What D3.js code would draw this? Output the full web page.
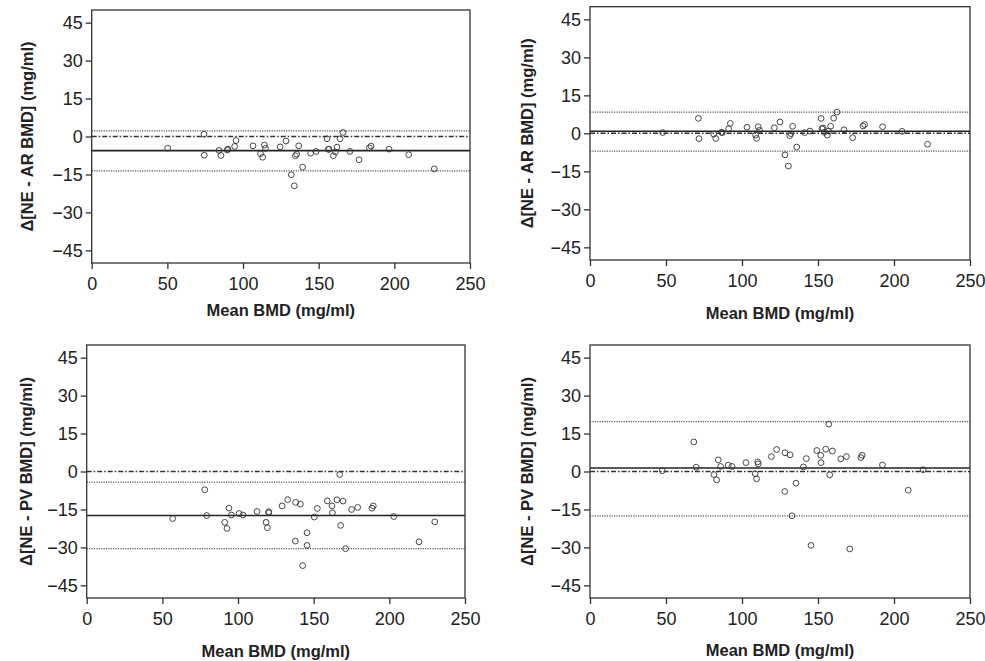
<!DOCTYPE html>
<html lang="en">
<head>
    <meta charset="utf-8">
    <title>Bland-Altman BMD</title>
    <script type="text/javascript" src="https://cdn.jsdelivr.net/npm/d3@7/dist/d3.min.js"></script>
    <style type="text/css">
        body { margin: 0; background: #fff; }
        svg { display: block; }
        text { font-family: "Liberation Sans", Arial, sans-serif; fill: #222; }
    </style>
</head>
<body>
    <script type="text/javascript">
        // Data: mean BMD (x) and difference (y) per panel
        var p1X = [50.2, 74.2, 74.4, 84.1, 85.4, 89.6, 90, 94.5, 95.4, 106.6, 111.6, 113, 114.1, 114.8, 124.5, 128.4, 131.9, 133.9, 134.6, 135.5, 136.8, 139.4, 144.7, 148.2, 155.5, 156.4, 156.8, 159.7, 161, 162.1, 164.1, 166.1, 170.7, 176.7, 183.5, 184.6, 196.5, 209.5, 226.4];
        var p1Y = [-4.6, 0.9, -7.4, -5.5, -7.5, -5.3, -5.0, -3.9, -1.6, -3.7, -6.8, -8.2, -3.4, -4.7, -4.1, -1.8, -15.1, -19.5, -7.6, -7.0, -3.7, -12.1, -6.6, -5.9, -0.9, -5.1, -5.0, -7.6, -6.1, -4.2, -0.9, 1.6, -5.9, -9.2, -4.5, -3.8, -5.0, -7.2, -12.8];

        var p2X = [47.8, 71.3, 71.7, 81.4, 82.7, 86.6, 87, 91.2, 92.3, 103.3, 109, 109.6, 110.7, 111.6, 121.3, 125, 128.3, 130.5, 131.4, 132.2, 133.3, 136, 141.2, 144.7, 152, 152.6, 153.3, 154.2, 156.1, 157, 158.3, 160.3, 162.5, 167.1, 172.8, 179.6, 180.7, 192.5, 205.3, 222.1];
        var p2Y = [0.3, 5.9, -2.1, -0.3, -2.0, 0.4, 0.3, 1.8, 3.9, 2.4, -0.7, -2.0, 2.6, 1.2, 2.2, 4.5, -8.5, -12.9, -0.9, -0.1, 2.8, -5.4, 0.3, 0.9, 5.9, 1.8, 2.1, 0.4, -0.7, 0.9, 2.8, 6.0, 8.4, 1.4, -1.7, 2.9, 3.5, 2.6, 0.8, -4.3];

        var p3X = [56.8, 78, 79.3, 91.2, 92.7, 94, 95.6, 100.7, 103.3, 112.6, 118.5, 119.4, 120.3, 120.3, 129.1, 132.8, 137.9, 138.1, 141.2, 142.7, 145.6, 145.6, 150.4, 152.4, 159, 162.1, 162.4, 165.4, 167.2, 167.8, 169.4, 171.1, 175.1, 179.1, 188.5, 189.4, 202.9, 219.6, 230];
        var p3Y = [-18.6, -7.2, -17.4, -20.1, -22.5, -14.5, -17.2, -16.6, -17.2, -15.8, -20.1, -22.2, -15.9, -16.3, -13.6, -11.1, -27.5, -12.2, -12.9, -37.2, -24.2, -29.2, -18.0, -14.6, -11.6, -13.6, -16.3, -11.2, -1.2, -21.3, -11.7, -30.5, -15.0, -14.2, -14.5, -13.6, -17.8, -27.8, -19.9];

        var p4X = [47.5, 68.3, 69.9, 81.5, 83.3, 84.4, 85.9, 90.9, 93.4, 102.6, 108.7, 109.6, 110.3, 110.7, 119.3, 122.8, 128.1, 128.3, 131.6, 132.9, 135.5, 140.4, 142.3, 145.4, 149.2, 151.8, 152, 155.1, 157.1, 157.7, 159.5, 165, 168.7, 170.9, 178.2, 179, 192.4, 209.4, 219.2];
        var p4Y = [0.3, 11.7, 1.7, -1.2, -3.3, 4.6, 2.0, 2.5, 2.0, 3.5, -0.9, -2.9, 3.8, 3.0, 5.9, 8.7, -7.9, 7.4, 6.6, -17.5, -4.6, 1.8, 5.1, -29.2, 8.3, 6.4, 3.5, 8.8, 18.7, -1.3, 8.1, 5.0, 5.9, -30.6, 5.5, 6.4, 2.6, -7.4, 0.7];

        // Bias and limits of agreement per panel
        var biasValues = [-5.6, 0.8, -17.4, 1.4];
        var upperLoA = [2.2, 8.4, -4.2, 19.7];
        var lowerLoA = [-13.6, -7.0, -30.5, -17.5];

        var yLabels = ["Δ[NE - AR BMD] (mg/ml)", "Δ[NE - AR BMD] (mg/ml)", "Δ[NE - PV BMD] (mg/ml)", "Δ[NE - PV BMD] (mg/ml)"];
        var xLabel = "Mean BMD (mg/ml)";
        var xTicks = [0, 50, 100, 150, 200, 250];
        var yTicks = [-45, -30, -15, 0, 15, 30, 45];

        // Width and height
        var w = 985;
        var h = 661;

        var svg = d3.select("body")
            .append("svg")
            .attr("width", w)
            .attr("height", h);

        // Plot boxes (left, right, top, bottom) and title positions
        var boxes = [
            { l: 91.7, r: 470, t: 10, b: 263, ty: 316, yx: 27 },
            { l: 590, r: 970, t: 6.7, b: 260, ty: 319, yx: 527 },
            { l: 86.7, r: 465, t: 345, b: 598, ty: 657, yx: 26 },
            { l: 590, r: 970, t: 345, b: 598, ty: 656, yx: 527 }
        ];

        var xs = [p1X, p2X, p3X, p4X];
        var ys = [p1Y, p2Y, p3Y, p4Y];

        boxes.forEach(function(b, i) {
            var x = d3.scaleLinear().domain([0, 250]).range([b.l, b.r]);
            var y = d3.scaleLinear().domain([-50, 50]).range([b.b, b.t]);
            var g = svg.append("g");

            // Reference lines
            function hline(v, dash, color, width) {
                g.append("line")
                    .attr("x1", b.l).attr("x2", b.r)
                    .attr("y1", y(v)).attr("y2", y(v))
                    .style("stroke", color)
                    .style("stroke-width", width)
                    .style("stroke-dasharray", dash);
            }
            hline(upperLoA[i], "1.2,1.2", "#555", 1.2);
            hline(lowerLoA[i], "1.2,1.2", "#555", 1.2);
            hline(0, "5,2,1.5,2", "#333", 1.5);
            hline(biasValues[i], null, "#222", 1.6);

            // Points
            g.selectAll("circle")
                .data(d3.zip(xs[i], ys[i]))
                .enter()
                .append("circle")
                .attr("cx", function(d) { return x(d[0]); })
                .attr("cy", function(d) { return y(d[1]); })
                .attr("r", 2.9)
                .style("fill", "none")
                .style("stroke", "#333")
                .style("stroke-width", 0.9);

            // Frame
            g.append("rect")
                .attr("x", b.l).attr("y", b.t)
                .attr("width", b.r - b.l).attr("height", b.b - b.t)
                .style("fill", "none")
                .style("stroke", "#333")
                .style("stroke-width", 1.3);

            // Axes
            var xAxis = g.append("g")
                .attr("transform", "translate(0," + b.b + ")")
                .call(d3.axisBottom(x).tickValues(xTicks).tickSize(6).tickPadding(8).tickSizeOuter(0));
            var yAxis = g.append("g")
                .attr("transform", "translate(" + b.l + ",0)")
                .call(d3.axisLeft(y).tickValues(yTicks).tickSize(6).tickPadding(3).tickSizeOuter(0));

            [xAxis, yAxis].forEach(function(a) {
                a.select(".domain").remove();
                a.selectAll("line").style("stroke", "#333").style("stroke-width", 1.3);
                a.selectAll("text")
                    .style("font-size", "18px")
                    .style("font-family", "'Liberation Sans', Arial, sans-serif")
                    .style("fill", "#222");
            });

            // Axis titles
            g.append("text")
                .attr("x", (b.l + b.r) / 2)
                .attr("y", b.ty)
                .attr("text-anchor", "middle")
                .style("font-size", "16.5px")
                .style("font-weight", "bold")
                .text(xLabel);

            g.append("text")
                .attr("transform", "translate(" + b.yx + "," + ((b.t + b.b) / 2) + ") rotate(-90)")
                .attr("text-anchor", "middle")
                .attr("dy", "0.35em")
                .style("font-size", "16.5px")
                .style("font-weight", "bold")
                .text(yLabels[i]);
        });
    </script>
</body>
</html>
